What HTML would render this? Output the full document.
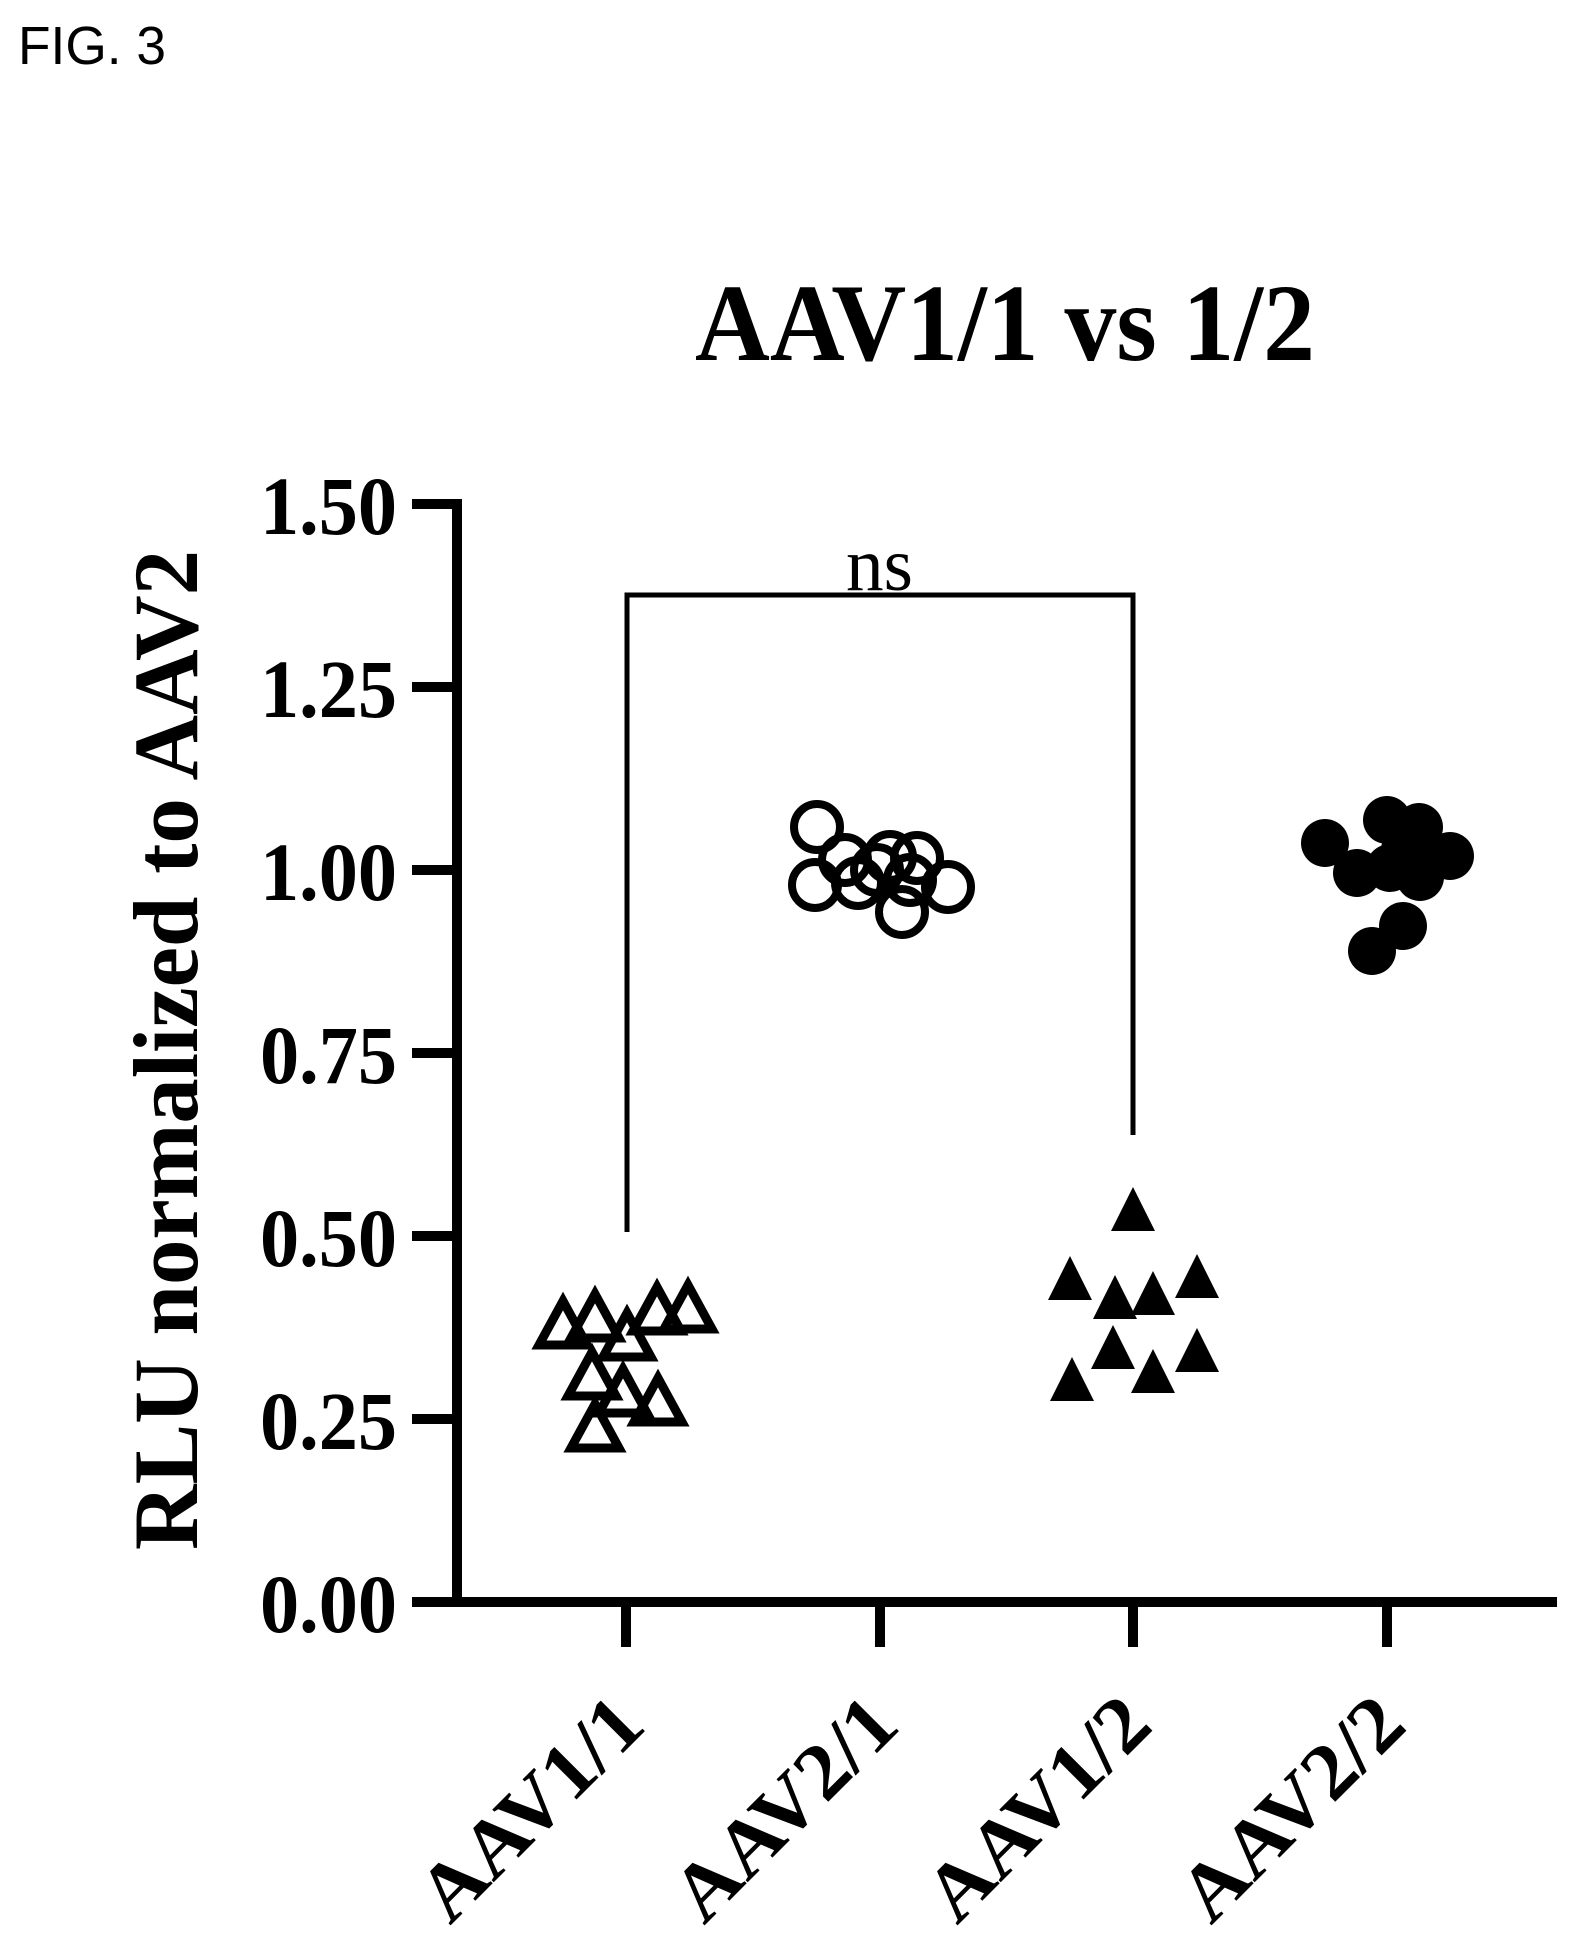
<!DOCTYPE html>
<html>
<head>
<meta charset="utf-8">
<style>
  html, body { margin:0; padding:0; background:#fff; }
  svg { display:block; }
</style>
</head>
<body>
<svg width="1582" height="1944" viewBox="0 0 1582 1944" xmlns="http://www.w3.org/2000/svg">
  <rect x="0" y="0" width="1582" height="1944" fill="#fff"/>

  <!-- FIG label -->
  <text x="18" y="64" font-family="Liberation Sans, sans-serif" font-size="54" fill="#000" textLength="148" lengthAdjust="spacingAndGlyphs">FIG. 3</text>

  <!-- Title -->
  <text x="695" y="360" font-family="Liberation Serif, serif" font-weight="bold" font-size="110" fill="#000" textLength="620" lengthAdjust="spacingAndGlyphs">AAV1/1 vs 1/2</text>

  <!-- Y axis title -->
  <text transform="translate(197,1550) rotate(-90)" x="0" y="0" font-family="Liberation Serif, serif" font-weight="bold" font-size="92" fill="#000" textLength="1000" lengthAdjust="spacingAndGlyphs">RLU normalized to AAV2</text>

  <!-- Axes -->
  <g stroke="#000" stroke-width="10" fill="none" stroke-linecap="butt">
    <line x1="457" y1="499" x2="457" y2="1607"/>
    <line x1="412" y1="1602" x2="1557" y2="1602"/>
    <!-- y ticks -->
    <line x1="412" y1="504" x2="457" y2="504"/>
    <line x1="412" y1="687" x2="457" y2="687"/>
    <line x1="412" y1="870" x2="457" y2="870"/>
    <line x1="412" y1="1053" x2="457" y2="1053"/>
    <line x1="412" y1="1236" x2="457" y2="1236"/>
    <line x1="412" y1="1419" x2="457" y2="1419"/>
    <!-- x ticks -->
    <line x1="626" y1="1602" x2="626" y2="1647"/>
    <line x1="880" y1="1602" x2="880" y2="1647"/>
    <line x1="1133" y1="1602" x2="1133" y2="1647"/>
    <line x1="1387" y1="1602" x2="1387" y2="1647"/>
  </g>

  <!-- Y tick labels -->
  <g font-family="Liberation Serif, serif" font-weight="bold" font-size="83" fill="#000" text-anchor="end">
    <text x="397" y="534" textLength="137" lengthAdjust="spacingAndGlyphs">1.50</text>
    <text x="397" y="717" textLength="137" lengthAdjust="spacingAndGlyphs">1.25</text>
    <text x="397" y="900" textLength="137" lengthAdjust="spacingAndGlyphs">1.00</text>
    <text x="397" y="1083" textLength="137" lengthAdjust="spacingAndGlyphs">0.75</text>
    <text x="397" y="1266" textLength="137" lengthAdjust="spacingAndGlyphs">0.50</text>
    <text x="397" y="1449" textLength="137" lengthAdjust="spacingAndGlyphs">0.25</text>
    <text x="397" y="1632" textLength="137" lengthAdjust="spacingAndGlyphs">0.00</text>
  </g>

  <!-- X tick labels (rotated 45deg) -->
  <g font-family="Liberation Serif, serif" font-weight="bold" font-size="80" fill="#000" text-anchor="end">
    <text transform="translate(648,1728) rotate(-45)" x="0" y="0" textLength="280" lengthAdjust="spacingAndGlyphs">AAV1/1</text>
    <text transform="translate(902,1728) rotate(-45)" x="0" y="0" textLength="280" lengthAdjust="spacingAndGlyphs">AAV2/1</text>
    <text transform="translate(1155,1728) rotate(-45)" x="0" y="0" textLength="280" lengthAdjust="spacingAndGlyphs">AAV1/2</text>
    <text transform="translate(1409,1728) rotate(-45)" x="0" y="0" textLength="280" lengthAdjust="spacingAndGlyphs">AAV2/2</text>
  </g>

  <!-- Significance bracket -->
  <g stroke="#000" stroke-width="5" fill="none">
    <polyline points="627,1232 627,595 1133,595 1133,1135"/>
  </g>
  <text x="846" y="590" font-family="Liberation Serif, serif" font-size="76" fill="#000" textLength="67" lengthAdjust="spacingAndGlyphs">ns</text>

  <!-- AAV1/1 open triangles -->
  <g stroke="#000" stroke-width="9" fill="none" stroke-linejoin="miter" stroke-miterlimit="10">
    <polygon points="563,1301 539,1345 587,1345"/>
    <polygon points="595,1294 571,1338 619,1338"/>
    <polygon points="627,1313 603,1357 651,1357"/>
    <polygon points="657,1287 633,1331 681,1331"/>
    <polygon points="688,1285 664,1329 712,1329"/>
    <polygon points="592,1352 568,1396 616,1396"/>
    <polygon points="623,1369 599,1413 647,1413"/>
    <polygon points="658,1378 634,1422 682,1422"/>
    <polygon points="595,1404 571,1448 619,1448"/>
  </g>

  <!-- AAV2/1 open circles -->
  <g stroke="#000" stroke-width="8" fill="none">
    <circle cx="817" cy="827" r="23"/>
    <circle cx="815" cy="885" r="23"/>
    <circle cx="858" cy="883" r="23"/>
    <circle cx="845" cy="860" r="23"/>
    <circle cx="877" cy="870" r="23"/>
    <circle cx="890" cy="857" r="23"/>
    <circle cx="917" cy="858" r="23"/>
    <circle cx="910" cy="880" r="23"/>
    <circle cx="902" cy="912" r="23"/>
    <circle cx="948" cy="887" r="23"/>
  </g>

  <!-- AAV1/2 filled triangles -->
  <g fill="#000">
    <polygon points="1133,1187 1111,1231 1155,1231"/>
    <polygon points="1070,1256 1048,1300 1092,1300"/>
    <polygon points="1115,1275 1093,1319 1137,1319"/>
    <polygon points="1153,1271 1131,1315 1175,1315"/>
    <polygon points="1197,1254 1175,1298 1219,1298"/>
    <polygon points="1113,1325 1091,1369 1135,1369"/>
    <polygon points="1197,1328 1175,1372 1219,1372"/>
    <polygon points="1072,1357 1050,1401 1094,1401"/>
    <polygon points="1153,1349 1131,1393 1175,1393"/>
  </g>

  <!-- AAV2/2 filled circles -->
  <g fill="#000">
    <circle cx="1325" cy="843" r="24"/>
    <circle cx="1387" cy="820" r="24"/>
    <circle cx="1419" cy="827" r="24"/>
    <circle cx="1450" cy="856" r="24"/>
    <circle cx="1357" cy="873" r="24"/>
    <circle cx="1390" cy="868" r="24"/>
    <circle cx="1420" cy="877" r="24"/>
    <circle cx="1405" cy="850" r="24"/>
    <circle cx="1403" cy="926" r="24"/>
    <circle cx="1372" cy="951" r="24"/>
  </g>
</svg>
</body>
</html>
